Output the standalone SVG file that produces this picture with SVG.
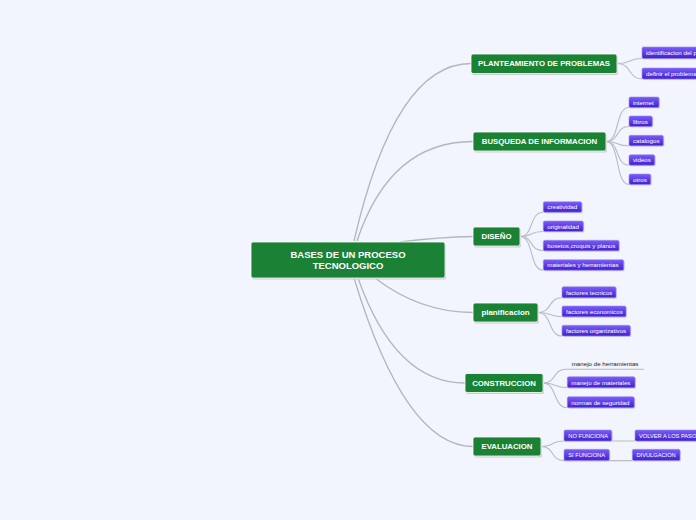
<svg xmlns="http://www.w3.org/2000/svg" width="696" height="520" viewBox="0 0 696 520">
<defs>
<linearGradient id="pg" x1="0" y1="0" x2="0" y2="1">
<stop offset="0" stop-color="#7a5cf6"/>
<stop offset="1" stop-color="#4220d2"/>
</linearGradient>
<style>
.bg{fill:#f2f5fd}
.c{fill:none;stroke:#b9bbc2;stroke-width:1.1}
.cm{fill:none;stroke:#b4b6bd;stroke-width:1.3}
.g{fill:#1b8235;stroke:#ffffff;stroke-width:0.8}
.gs{fill:#c9cbd2}
.p{fill:url(#pg);stroke:#9a8af2;stroke-width:0.6}
.ps{fill:#cfd1da}
.gt{font-family:"Liberation Sans",Arial,sans-serif;font-weight:bold;fill:#ffffff;text-anchor:middle}
.pt{font-family:"Liberation Sans",Arial,sans-serif;font-size:6.2px;fill:#ffffff}
.pu{font-family:"Liberation Sans",Arial,sans-serif;font-size:5.7px;fill:#ffffff}
.tt{font-family:"Liberation Sans",Arial,sans-serif;font-size:6.2px;fill:#222222}
</style>
</defs>
<rect class="bg" x="0" y="0" width="696" height="520"/>
<g id="connectors">
<path class="cm" d="M354,241 Q395,63.5 471,63.5"/>
<path class="cm" d="M357,241 Q390,141.5 473,141.5"/>
<path class="cm" d="M400,242 Q440,237 473,236.5"/>
<path class="cm" d="M375,278 Q420,312.5 473,312.5"/>
<path class="cm" d="M358,278 Q395,383 465,383"/>
<path class="cm" d="M354,278 Q405,446.5 473,446.5"/>
<path class="c" d="M617,63.5 C632,63.5 628,58.5 642,58.5"/>
<path class="c" d="M617,63.5 C632,63.5 628,79 642,79"/>
<path class="c" d="M606,141.5 C620,141.5 615,107.5 629,107.5"/>
<path class="c" d="M606,141.5 C620,141.5 615,126.5 629,126.5"/>
<path class="c" d="M606,141.5 C620,141.5 615,145.8 629,145.8"/>
<path class="c" d="M606,141.5 C620,141.5 615,165.2 629,165.2"/>
<path class="c" d="M606,141.5 C620,141.5 615,184.5 629,184.5"/>
<path class="c" d="M520,236.5 C534,236.5 529,212.2 543.3,212.2"/>
<path class="c" d="M520,236.5 C534,236.5 529,231.5 543.3,231.5"/>
<path class="c" d="M520,236.5 C534,236.5 529,250.8 543.3,250.8"/>
<path class="c" d="M520,236.5 C534,236.5 529,270.2 543.3,270.2"/>
<path class="c" d="M538,312.5 C552,312.5 548,297.7 562,297.7"/>
<path class="c" d="M538,312.5 C552,312.5 548,316.7 562,316.7"/>
<path class="c" d="M538,312.5 C552,312.5 548,336 562,336"/>
<path class="c" d="M543,383 C557,383 552,369.3 566,369.3 L644,369.3"/>
<path class="c" d="M543,383 C557,383 553,387.7 567.3,387.7"/>
<path class="c" d="M543,383 C557,383 553,407.7 567.3,407.7"/>
<path class="c" d="M541,446.5 C555,446.5 550,441 564,441 L635,441"/>
<path class="c" d="M541,446.5 C555,446.5 550,460.6 564,460.6 L632.3,460.6"/>
</g>
<g id="central">
<rect class="gs" x="252" y="243.5" width="194" height="36" rx="2"/>
<rect class="g" x="251" y="242" width="194" height="36" rx="2"/>
<text class="gt" x="348" y="258.3" font-size="9.5">BASES DE UN PROCESO</text>
<text class="gt" x="348" y="269" font-size="9.5">TECNOLOGICO</text>
</g>
<g id="planteamiento">
<rect class="gs" x="472" y="55.5" width="146" height="19.5" rx="2"/>
<rect class="g" x="471" y="54" width="146" height="19.5" rx="2"/>
<text class="gt" x="544" y="66.4" font-size="7.8">PLANTEAMIENTO DE PROBLEMAS</text>
</g>
<g id="busqueda">
<rect class="gs" x="474" y="133.5" width="133" height="19" rx="2"/>
<rect class="g" x="473" y="132" width="133" height="19" rx="2"/>
<text class="gt" x="539.5" y="144.3" font-size="7.8">BUSQUEDA DE INFORMACION</text>
</g>
<g id="diseno">
<rect class="gs" x="474" y="228.5" width="47" height="19" rx="2"/>
<rect class="g" x="473" y="227" width="47" height="19" rx="2"/>
<text class="gt" x="496.5" y="239.3" font-size="7.8">DISEÑO</text>
</g>
<g id="planificacion">
<rect class="gs" x="474" y="304.5" width="65" height="19" rx="2"/>
<rect class="g" x="473" y="303" width="65" height="19" rx="2"/>
<text class="gt" x="505.5" y="315.3" font-size="7.9">planificacion</text>
</g>
<g id="construccion">
<rect class="gs" x="466" y="375" width="78" height="19" rx="2"/>
<rect class="g" x="465" y="373.5" width="78" height="19" rx="2"/>
<text class="gt" x="504" y="385.8" font-size="7.8">CONSTRUCCION</text>
</g>
<g id="evaluacion">
<rect class="gs" x="474" y="438.5" width="68" height="19" rx="2"/>
<rect class="g" x="473" y="437" width="68" height="19" rx="2"/>
<text class="gt" x="507" y="449.3" font-size="7.8">EVALUACION</text>
</g>
<g id="identificacion">
<rect class="ps" x="643" y="48" width="90" height="11.5" rx="1.5"/>
<rect class="p" x="642" y="47" width="90" height="11.5" rx="1.5"/>
<text class="pt" x="646" y="55">identificacion del problema</text>
</g>
<g id="definir">
<rect class="ps" x="643" y="69" width="70" height="11" rx="1.5"/>
<rect class="p" x="642" y="68" width="70" height="11" rx="1.5"/>
<text class="pt" x="646" y="75.8">definir el problema</text>
</g>
<g id="internet">
<rect class="ps" x="630" y="98" width="30" height="10.5" rx="1.5"/>
<rect class="p" x="629" y="97" width="30" height="10.5" rx="1.5"/>
<text class="pt" x="633" y="104.5">internet</text>
</g>
<g id="libros">
<rect class="ps" x="630" y="117" width="23.3" height="10.5" rx="1.5"/>
<rect class="p" x="629" y="116" width="23.3" height="10.5" rx="1.5"/>
<text class="pt" x="633" y="123.5">libros</text>
</g>
<g id="catalogos">
<rect class="ps" x="630" y="136.3" width="34.3" height="10.5" rx="1.5"/>
<rect class="p" x="629" y="135.3" width="34.3" height="10.5" rx="1.5"/>
<text class="pt" x="633" y="142.8">catalogos</text>
</g>
<g id="videos">
<rect class="ps" x="630" y="155.7" width="25.7" height="10.5" rx="1.5"/>
<rect class="p" x="629" y="154.7" width="25.7" height="10.5" rx="1.5"/>
<text class="pt" x="633" y="162.2">videos</text>
</g>
<g id="otros">
<rect class="ps" x="630" y="175" width="21.7" height="10.5" rx="1.5"/>
<rect class="p" x="629" y="174" width="21.7" height="10.5" rx="1.5"/>
<text class="pt" x="633" y="181.5">otros</text>
</g>
<g id="creatividad">
<rect class="ps" x="544.3" y="202.7" width="38.4" height="10.5" rx="1.5"/>
<rect class="p" x="543.3" y="201.7" width="38.4" height="10.5" rx="1.5"/>
<text class="pt" x="547.3" y="209.2">creatividad</text>
</g>
<g id="originalidad">
<rect class="ps" x="544.3" y="222" width="40" height="10.5" rx="1.5"/>
<rect class="p" x="543.3" y="221" width="40" height="10.5" rx="1.5"/>
<text class="pt" x="547.3" y="228.5">originalidad</text>
</g>
<g id="bosetos">
<rect class="ps" x="544.3" y="241.3" width="75.7" height="10.5" rx="1.5"/>
<rect class="p" x="543.3" y="240.3" width="75.7" height="10.5" rx="1.5"/>
<text class="pt" x="547.3" y="247.8">bosetos,croquis y planos</text>
</g>
<g id="materiales">
<rect class="ps" x="544.3" y="260.7" width="80.4" height="10.5" rx="1.5"/>
<rect class="p" x="543.3" y="259.7" width="80.4" height="10.5" rx="1.5"/>
<text class="pt" x="547.3" y="267.2">materiales y herramientas</text>
</g>
<g id="tecnicos">
<rect class="ps" x="563" y="287.7" width="54" height="11" rx="1.5"/>
<rect class="p" x="562" y="286.7" width="54" height="11" rx="1.5"/>
<text class="pt" x="566" y="294.5">factores tecnicos</text>
</g>
<g id="economicos">
<rect class="ps" x="563" y="307" width="64" height="10.7" rx="1.5"/>
<rect class="p" x="562" y="306" width="64" height="10.7" rx="1.5"/>
<text class="pt" x="566" y="313.6">factores economicos</text>
</g>
<g id="organizativos">
<rect class="ps" x="563" y="326.3" width="68.3" height="10.7" rx="1.5"/>
<rect class="p" x="562" y="325.3" width="68.3" height="10.7" rx="1.5"/>
<text class="pt" x="566" y="332.9">factores organizativos</text>
</g>
<g id="herramientas">
<text class="tt" x="571.7" y="366">manejo de herramientas</text>
</g>
<g id="manejo-materiales">
<rect class="ps" x="568.3" y="377.7" width="67.7" height="11" rx="1.5"/>
<rect class="p" x="567.3" y="376.7" width="67.7" height="11" rx="1.5"/>
<text class="pt" x="571.3" y="384.5">manejo de materiales</text>
</g>
<g id="normas">
<rect class="ps" x="568.3" y="397.7" width="67" height="11" rx="1.5"/>
<rect class="p" x="567.3" y="396.7" width="67" height="11" rx="1.5"/>
<text class="pt" x="571.3" y="404.5">normas de seguridad</text>
</g>
<g id="no-funciona">
<rect class="ps" x="565" y="431" width="47.7" height="11" rx="1.5"/>
<rect class="p" x="564" y="430" width="47.7" height="11" rx="1.5"/>
<text class="pu" x="568.3" y="437.6">NO FUNCIONA</text>
</g>
<g id="si-funciona">
<rect class="ps" x="565" y="450.3" width="45.3" height="11.3" rx="1.5"/>
<rect class="p" x="564" y="449.3" width="45.3" height="11.3" rx="1.5"/>
<text class="pu" x="568.3" y="457">SI FUNCIONA</text>
</g>
<g id="volver">
<rect class="ps" x="636" y="431" width="80" height="11" rx="1.5"/>
<rect class="p" x="635" y="430" width="80" height="11" rx="1.5"/>
<text class="pu" x="639" y="437.6">VOLVER A LOS PASOS</text>
</g>
<g id="divulgacion">
<rect class="ps" x="633.3" y="450.3" width="47.7" height="11.3" rx="1.5"/>
<rect class="p" x="632.3" y="449.3" width="47.7" height="11.3" rx="1.5"/>
<text class="pu" x="636.5" y="457">DIVULGACION</text>
</g>
</svg>
